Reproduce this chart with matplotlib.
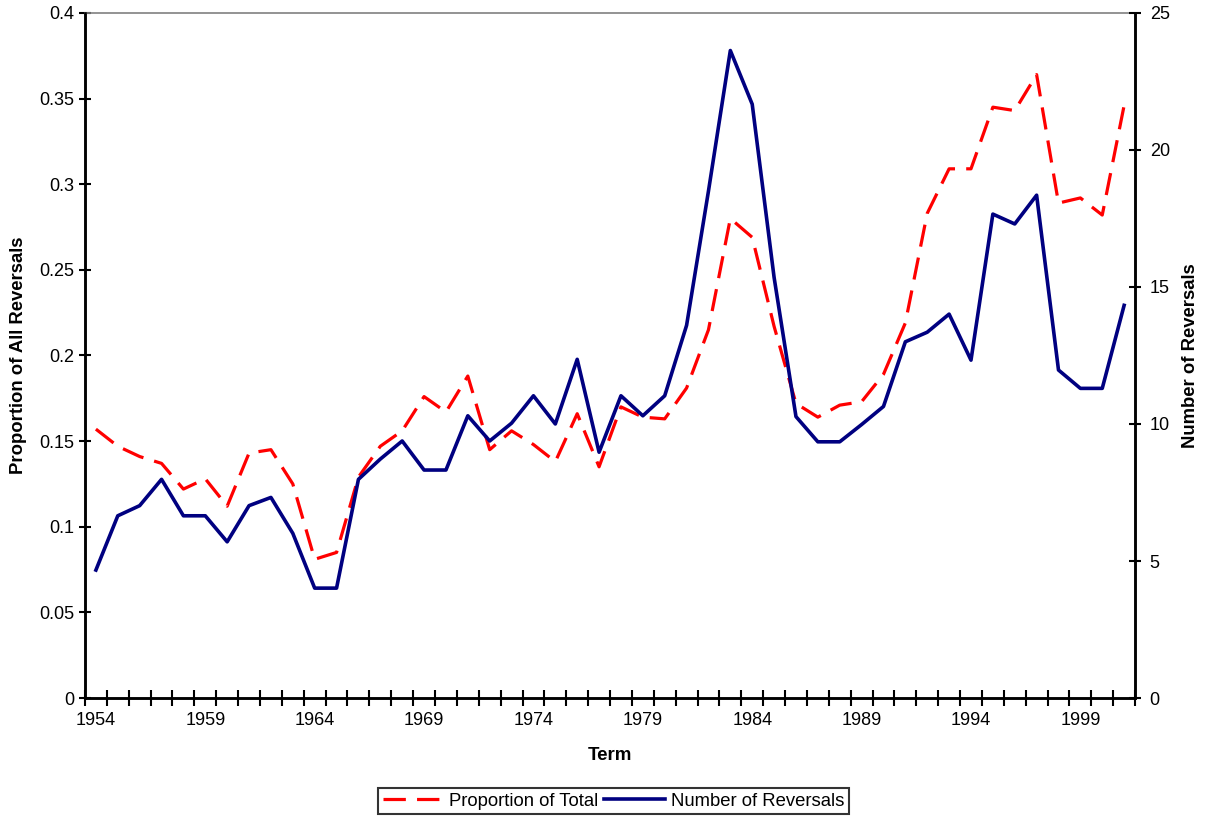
import matplotlib
matplotlib.use('Agg')
import matplotlib.pyplot as plt
import numpy as np

plt.rcParams['font.family'] = ['Liberation Sans', 'DejaVu Sans']

# terms 1954..2001
years = list(range(1954, 2002))

proportion = [0.157, 0.147, 0.141, 0.137, 0.122, 0.128, 0.112, 0.143, 0.145, 0.125,
              0.081, 0.085, 0.129, 0.147, 0.156, 0.176, 0.167, 0.188, 0.145, 0.156,
              0.148, 0.138, 0.166, 0.135, 0.170, 0.164, 0.163, 0.181, 0.215, 0.280,
              0.269, 0.217, 0.172, 0.164, 0.171, 0.173, 0.189, 0.219, 0.283, 0.309,
              0.309, 0.345, 0.343, 0.364, 0.289, 0.292, 0.282, 0.346]

reversals = [4.67, 6.65, 7.02, 7.98, 6.65, 6.65, 5.70, 7.02, 7.32, 6.01,
             4.01, 4.01, 7.98, 8.72, 9.38, 8.32, 8.32, 10.30, 9.38, 10.03,
             11.03, 10.0, 12.36, 8.97, 11.03, 10.30, 11.03, 13.6, 18.5, 23.63,
             21.67, 15.35, 10.27, 9.35, 9.35, 9.98, 10.64, 13.0, 13.35, 14.01,
             12.33, 17.66, 17.3, 18.35, 11.97, 11.3, 11.3, 14.33]

x = np.arange(len(years))

fig = plt.figure(figsize=(12.07, 8.16), dpi=100)
ax = fig.add_axes([0.0704, 0.1446, 0.8700, 0.8395])
ax2 = ax.twinx()

l1, = ax.plot(x, proportion, color='#FF0000', lw=2.3, dashes=(7, 3.5),
              label='Proportion of Total')
l2, = ax2.plot(x, reversals, color='#000080', lw=2.6, label='Number of Reversals')

ax.set_xlim(-0.5, len(years) - 0.5)
ax.set_ylim(0, 0.4)
ax2.set_ylim(0, 25)

ax.set_yticks(np.arange(0, 0.401, 0.05))
ax.set_yticklabels(['0', '0.05', '0.1', '0.15', '0.2', '0.25', '0.3', '0.35', '0.4'])
ax2.set_yticks([0, 5, 10, 15, 20, 25])

# category style axis: ticks between categories, labels every 5 terms
ax.set_xticks(x[::5])
ax.set_xticklabels([str(y) for y in years[::5]])
ax.set_xticks(np.arange(-0.5, len(years)), minor=True)
ax.tick_params(axis='x', which='major', length=0, pad=10, labelsize=13)
ax.tick_params(axis='x', which='minor', length=12, width=1.5, direction='inout')
ax.tick_params(axis='y', length=9, width=1.5, direction='inout', labelsize=13, pad=3)
ax2.tick_params(axis='y', length=9, width=1.5, direction='inout', labelsize=13, pad=6)

for a in (ax, ax2):
    for s in ('left', 'right', 'bottom'):
        a.spines[s].set_linewidth(1.8)
ax2.spines['top'].set_visible(False)
ax.spines['top'].set_color('#808080')
ax.spines['top'].set_linewidth(1.2)

ax.set_xlabel('Term', fontsize=13.5, fontweight='bold', labelpad=13)
ax.set_ylabel('Proportion of All Reversals', fontsize=13.3, fontweight='bold', labelpad=9)
ax2.set_ylabel('Number of Reversals', fontsize=13.3, fontweight='bold', labelpad=9)

leg = fig.legend(handles=[l1, l2], loc='lower center', bbox_to_anchor=(0.5083, 0.002),
                 ncol=2, frameon=True, fancybox=False, fontsize=13.3,
                 handlelength=3.3, handletextpad=0.3, columnspacing=0.3,
                 borderpad=0.25, borderaxespad=0.0)
leg.get_frame().set_edgecolor('black')
leg.get_frame().set_linewidth(1.5)

fig.savefig('out.png', dpi=100)
